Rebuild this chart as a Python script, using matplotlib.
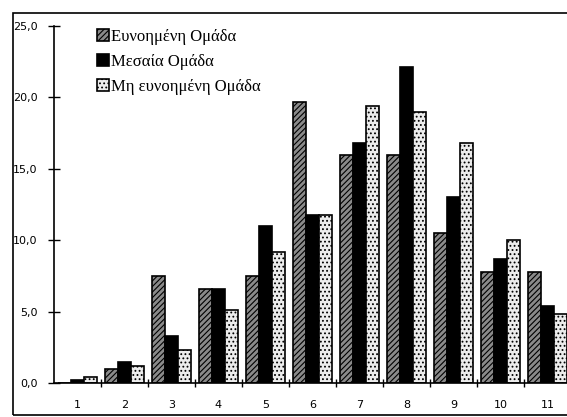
import numpy as np
import matplotlib.pyplot as plt
from matplotlib.patches import Rectangle

categories = [1, 2, 3, 4, 5, 6, 7, 8, 9, 10, 11]
favoured = [0.0, 1.0, 7.5, 6.6, 7.5, 19.7, 16.0, 16.0, 10.5, 7.8, 7.8]
middle = [0.2, 1.5, 3.3, 6.6, 11.0, 11.8, 16.8, 22.1, 13.0, 8.7, 5.4]
unfavoured = [0.4, 1.2, 2.3, 5.1, 9.2, 11.8, 19.4, 19.0, 16.8, 10.0, 4.8]
labels = ["Ευνοημένη Ομάδα", "Μεσαία Ομάδα", "Μη ευνοημένη Ομάδα"]
yticks = [0, 5, 10, 15, 20, 25]
ytick_labels = ["0,0", "5,0", "10,0", "15,0", "20,0", "25,0"]

plt.rcParams['hatch.linewidth'] = 0.8

fig = plt.figure(figsize=(5.67, 4.17), dpi=100)
ax = fig.add_axes([0.0952, 0.0815, 0.9048, 0.8561])

x = np.array(categories)
w = 0.28
ax.bar(x - w, favoured, w, color='#8a8a8a', edgecolor='black', hatch='//////', linewidth=1.2, label=labels[0])
ax.bar(x, middle, w, color='black', edgecolor='black', linewidth=1.2, label=labels[1])
ax.bar(x + w, unfavoured, w, color='#ececec', edgecolor='black', hatch='....', linewidth=1.2, label=labels[2])

ax.set_xlim(0.5, 11.415)
ax.set_ylim(0, 25)
ax.set_yticks(yticks)
ax.set_yticklabels(ytick_labels)
ax.set_xticks(categories)
ax.set_xticks(np.arange(1.5, 11.5, 1), minor=True)

for s in ['top', 'right']:
    ax.spines[s].set_visible(False)
ax.spines['left'].set_linewidth(1.2)
ax.spines['bottom'].set_linewidth(1.2)

ax.tick_params(axis='y', direction='inout', length=8, width=1, labelsize=8, pad=8)
ax.tick_params(axis='x', which='major', length=0, labelsize=8, pad=12)
ax.tick_params(axis='x', which='minor', direction='inout', length=6, width=1)

leg = ax.legend(loc='upper left', bbox_to_anchor=(0.055, 1.035), frameon=False,
                prop={'family': 'Liberation Serif', 'size': 12},
                handlelength=0.7, handleheight=0.7, handletextpad=0.15, labelspacing=0.55)

# border round the whole figure
fig.patches.append(Rectangle((0.023, 0.005), 0.99, 0.964, transform=fig.transFigure,
                             fill=False, edgecolor='black', linewidth=1.2))

fig.savefig('out.png', dpi=100)
